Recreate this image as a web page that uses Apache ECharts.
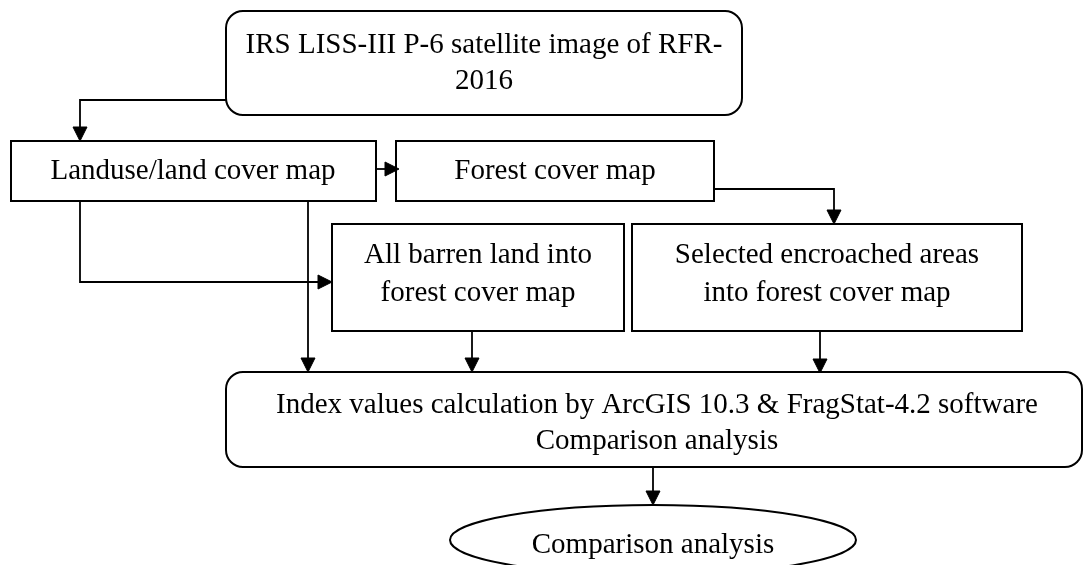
<!DOCTYPE html>
<html>
<head>
<meta charset="utf-8">
<script src="https://cdn.jsdelivr.net/npm/echarts@6/dist/echarts.min.js"></script>
<style>
  html, body { margin: 0; padding: 0; background: #ffffff; }
  #chart { width: 1083px; height: 565px; }
</style>
</head>
<body>
<div id="chart"></div>
<script>
// ---- content (labels) ----
const topLabel = ['IRS LISS-III P-6 satellite image of RFR-', '2016'];
const landuseLabel = ['Landuse/land cover map'];
const forestLabel = ['Forest cover map'];
const barrenLabel = ['All barren land into', 'forest cover map'];
const selectedLabel = ['Selected encroached areas', 'into forest cover map'];
const indexLabel = ['Index values calculation by ArcGIS 10.3 & FragStat-4.2 software', 'Comparison analysis'];
const outputLabel = ['Comparison analysis'];
const captionFragment = ['Research design'];

// ---- flow (which node feeds which) ----
const flowFrom = ['top', 'landuse', 'forest', 'landuse', 'landuse', 'barren', 'selected', 'index'];
const flowTo   = ['landuse', 'forest', 'selected', 'barren', 'index', 'index', 'index', 'output'];

// ---- layout (positions / sizes) ----
const layout = {
  top:      { shape: 'round', x0: 226, y0: 11,  x1: 742,  y1: 115, cx: 484, lines: [45, 81], label: topLabel },
  landuse:  { shape: 'rect',  x0: 11,  y0: 141, x1: 376,  y1: 201, cx: 193, lines: [171], label: landuseLabel },
  forest:   { shape: 'rect',  x0: 396, y0: 141, x1: 714,  y1: 201, cx: 555, lines: [171], label: forestLabel },
  barren:   { shape: 'rect',  x0: 332, y0: 224, x1: 624,  y1: 331, cx: 478, lines: [255, 293], label: barrenLabel },
  selected: { shape: 'rect',  x0: 632, y0: 224, x1: 1022, y1: 331, cx: 827, lines: [255, 293], label: selectedLabel },
  index:    { shape: 'round', x0: 226, y0: 372, x1: 1082, y1: 467, cx: 657, lines: [405, 441], label: indexLabel },
  output:   { shape: 'ellipse', cx0: 653, cy0: 540, rx: 203, ry: 35, cx: 653, lines: [545], label: outputLabel }
};
const edgeRoutes = {
  'top>landuse':     [[226, 100], [80, 100], [80, 141]],
  'landuse>forest':  [[376, 169], [399, 169]],
  'forest>selected': [[714, 189], [834, 189], [834, 224]],
  'landuse>barren':  [[80, 201], [80, 282], [332, 282]],
  'landuse>index':   [[308, 201], [308, 372]],
  'barren>index':    [[472, 331], [472, 372]],
  'selected>index':  [[820, 331], [820, 373]],
  'index>output':    [[653, 467], [653, 505]]
};

const FONT = "'Liberation Serif', 'Times New Roman', 'DejaVu Serif', serif";
const FONT_SIZE = 29;
const ARROW_LEN = 14, ARROW_HALF = 7;

const elements = [];

// nodes
Object.keys(layout).forEach(function (key) {
  const n = layout[key];
  if (n.shape === 'ellipse') {
    elements.push({
      type: 'ellipse',
      shape: { cx: n.cx0, cy: n.cy0, rx: n.rx, ry: n.ry },
      style: { fill: '#fff', stroke: '#000', lineWidth: 2 }
    });
  } else {
    elements.push({
      type: 'rect',
      shape: { x: n.x0, y: n.y0, width: n.x1 - n.x0, height: n.y1 - n.y0, r: n.shape === 'round' ? 17 : 0 },
      style: { fill: '#fff', stroke: '#000', lineWidth: 2 }
    });
  }
  n.label.forEach(function (txt, i) {
    elements.push({
      type: 'text',
      x: n.cx, y: n.lines[i],
      style: {
        text: txt, fill: '#000', font: FONT_SIZE + 'px ' + FONT,
        textAlign: 'center', textVerticalAlign: 'middle'
      },
      z: 10
    });
  });
});

// edges
flowFrom.forEach(function (from, i) {
  const pts = edgeRoutes[from + '>' + flowTo[i]];
  const last = pts[pts.length - 1];
  const prev = pts[pts.length - 2];
  const dx = last[0] - prev[0], dy = last[1] - prev[1];
  const len = Math.sqrt(dx * dx + dy * dy);
  const ux = dx / len, uy = dy / len;
  const base = [last[0] - ux * ARROW_LEN, last[1] - uy * ARROW_LEN];
  const linePts = pts.slice(0, -1).concat([base]);
  elements.push({
    type: 'polyline',
    shape: { points: linePts },
    style: { stroke: '#000', lineWidth: 1.8, fill: null },
    z: 5
  });
  elements.push({
    type: 'polygon',
    shape: { points: [last, [base[0] - uy * ARROW_HALF, base[1] + ux * ARROW_HALF], [base[0] + uy * ARROW_HALF, base[1] - ux * ARROW_HALF]] },
    style: { fill: '#000', stroke: '#000', lineWidth: 1 },
    z: 6
  });
});

// clipped caption fragment at bottom-left (only the tops of tall letters show)
elements.push({
  type: 'text',
  x: -92, y: 577,
  style: { text: captionFragment[0], fill: '#000', font: FONT_SIZE + 'px ' + FONT, textAlign: 'left', textVerticalAlign: 'middle' }
});

const chart = echarts.init(document.getElementById('chart'), null, { renderer: 'canvas' });
chart.setOption({
  backgroundColor: '#ffffff',
  animation: false,
  graphic: { elements: elements }
});
</script>
</body>
</html>
